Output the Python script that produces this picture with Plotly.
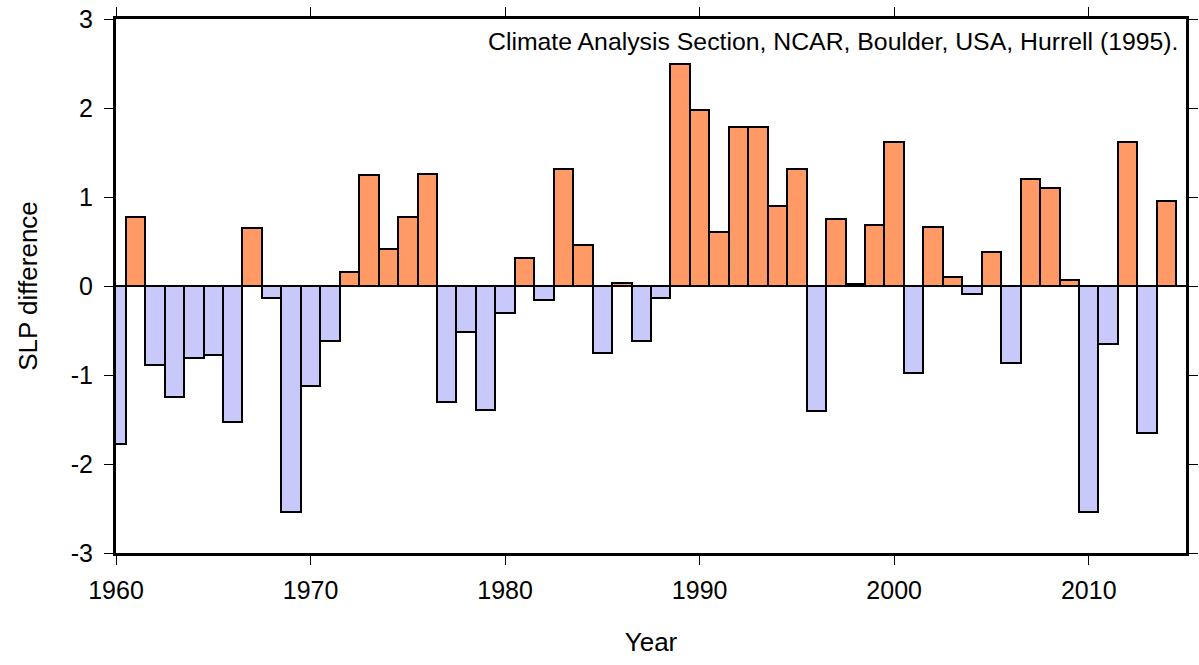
import plotly.graph_objects as go

# Winter sea-level-pressure difference index, one value per year
years = list(range(1960, 2015))
slp_diff = [
    -1.77, 0.78, -0.89, -1.25, -0.81, -0.78, -1.53, 0.65, -0.13, -2.54,
    -1.12, -0.62, 0.16, 1.25, 0.42, 0.77, 1.26, -1.30, -0.52, -1.39,
    -0.30, 0.32, -0.16, 1.31, 0.46, -0.75, 0.03, -0.62, -0.13, 2.50,
    1.98, 0.61, 1.79, 1.79, 0.90, 1.32, -1.41, 0.75, 0.02, 0.69,
    1.62, -0.98, 0.66, 0.10, -0.09, 0.38, -0.87, 1.20, 1.10, 0.07,
    -2.54, -0.65, 1.62, -1.65, 0.96,
]
y_ticks = [-3, -2, -1, 0, 1, 2, 3]
x_ticks = [1960, 1970, 1980, 1990, 2000, 2010]

POS_COLOR = "#ff9966"
NEG_COLOR = "#c8c8fa"
FONT = "Liberation Sans, Arial, Helvetica, sans-serif"

colors = [POS_COLOR if v >= 0 else NEG_COLOR for v in slp_diff]

fig = go.Figure(
    go.Bar(
        x=years,
        y=slp_diff,
        width=1,
        marker=dict(color=colors, line=dict(color="black", width=2)),
        hoverinfo="x+y",
    )
)

axis_common = dict(
    showline=True,
    linecolor="black",
    linewidth=3,
    mirror="ticks",
    ticks="outside",
    tickcolor="black",
    tickwidth=1,
    ticklen=9,
    showgrid=False,
    automargin=False,
    tickfont=dict(family=FONT, size=25, color="black"),
    layer="above traces",
)

fig.update_layout(
    width=1199,
    height=665,
    margin=dict(l=116, r=13, t=19, b=112),
    paper_bgcolor="white",
    plot_bgcolor="white",
    bargap=0,
    showlegend=False,
    font=dict(family=FONT, size=25, color="black"),
    xaxis=dict(
        range=[1960, 2015],
        tickvals=x_ticks,
        ticktext=[str(t) for t in x_ticks],
        ticklabelstandoff=4,
        title=dict(text="Year", font=dict(family=FONT, size=26), standoff=30),
        zeroline=False,
        **axis_common,
    ),
    yaxis=dict(
        range=[-3, 3],
        tickvals=y_ticks,
        ticktext=[str(t) for t in y_ticks],
        ticklabelstandoff=6,
        title=dict(text="SLP difference", font=dict(family=FONT, size=26), standoff=26),
        zeroline=True,
        zerolinecolor="black",
        zerolinewidth=2,
        **axis_common,
    ),
    annotations=[
        dict(
            text="Climate Analysis Section, NCAR, Boulder, USA, Hurrell (1995).",
            xref="paper",
            yref="paper",
            x=0.9944,
            y=0.957,
            xanchor="right",
            yanchor="middle",
            showarrow=False,
            font=dict(family=FONT, size=24.8, color="black"),
        )
    ],
)

fig.write_html("out.html")
